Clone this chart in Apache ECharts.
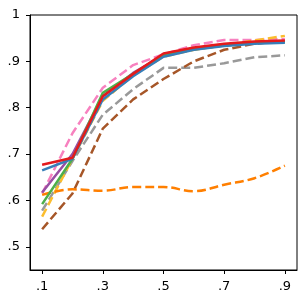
<!DOCTYPE html>
<html><head><meta charset="utf-8">
<script src="https://cdn.jsdelivr.net/npm/echarts@6/dist/echarts.min.js"></script>
<style>html,body{margin:0;padding:0;background:#fff}#c{width:300px;height:300px}</style>
</head><body><div id="c"></div>
<script>
const xs = [0.1,0.2,0.3,0.4,0.5,0.6,0.7,0.8,0.9];
const xTicks = [0.1,0.3,0.5,0.7,0.9];
const yTicks = [0.5,0.6,0.7,0.8,0.9,1.0];
const gray   = [0.578,0.685,0.785,0.840,0.886,0.886,0.896,0.909,0.913];
const brown  = [0.538,0.615,0.755,0.818,0.862,0.900,0.925,0.938,0.945];
const pink   = [0.615,0.745,0.843,0.892,0.915,0.935,0.946,0.946,0.948];
const yellow = [0.565,0.690,0.815,0.870,0.910,0.925,0.935,0.945,0.955];
const orange = [0.612,0.624,0.621,0.629,0.629,0.620,0.634,0.648,0.675];
const purple = [0.617,0.700,0.825,0.875,0.913,0.928,0.936,0.941,0.943];
const green  = [0.592,0.690,0.832,0.873,0.913,0.926,0.934,0.940,0.942];
const blue   = [0.665,0.690,0.818,0.868,0.910,0.925,0.933,0.938,0.940];
const red    = [0.677,0.692,0.825,0.873,0.917,0.930,0.938,0.943,0.945];

const dash = [9,4];
function mk(vals, color, dashed, smooth){
  return {type:'line', data: xs.map((x,i)=>[x, vals[i]]), symbol:'none', smooth: smooth||false,
    lineStyle:{color:color, width:2.5, type: dashed ? dash : 'solid', cap:'butt'}, z:2};
}
function fmt(v){ const s = (Math.round(v*10)/10).toString(); return s.replace(/^0\./,'.'); }
const chart = echarts.init(document.getElementById('c'), null, {renderer:'canvas'});
chart.setOption({
  animation:false,
  grid:{left:30,right:3,top:15,bottom:30,show:true,borderColor:'#000',borderWidth:1,backgroundColor:'transparent'},
  xAxis:{type:'value',min:0.06,max:0.94,splitLine:{show:false},
    axisLine:{lineStyle:{color:'#000',width:1}},
    axisTick:{show:true,length:4,customValues:xTicks,lineStyle:{color:'#000'}},
    axisLabel:{customValues:xTicks,formatter:fmt,color:'#000',fontSize:13,margin:10,fontFamily:'DejaVu Sans'}},
  yAxis:{type:'value',min:0.45,max:1.0,splitLine:{show:false},
    axisLine:{show:true,lineStyle:{color:'#000',width:1}},
    axisTick:{show:true,length:4,customValues:yTicks,lineStyle:{color:'#000'}},
    axisLabel:{customValues:yTicks,formatter:fmt,color:'#000',fontSize:13,margin:10,fontFamily:'DejaVu Sans'}},
  series:[
    mk(gray,'#999999',true),
    mk(brown,'#a65628',true),
    mk(pink,'#f781bf',true),
    mk(yellow,'#fbbd2e',true),
    mk(orange,'#ff7f00',true,0.4),
    mk(purple,'#984ea3',false),
    mk(green,'#4daf4a',false),
    mk(blue,'#377eb8',false),
    mk(red,'#e41a1c',false)
  ]
});
</script></body></html>
